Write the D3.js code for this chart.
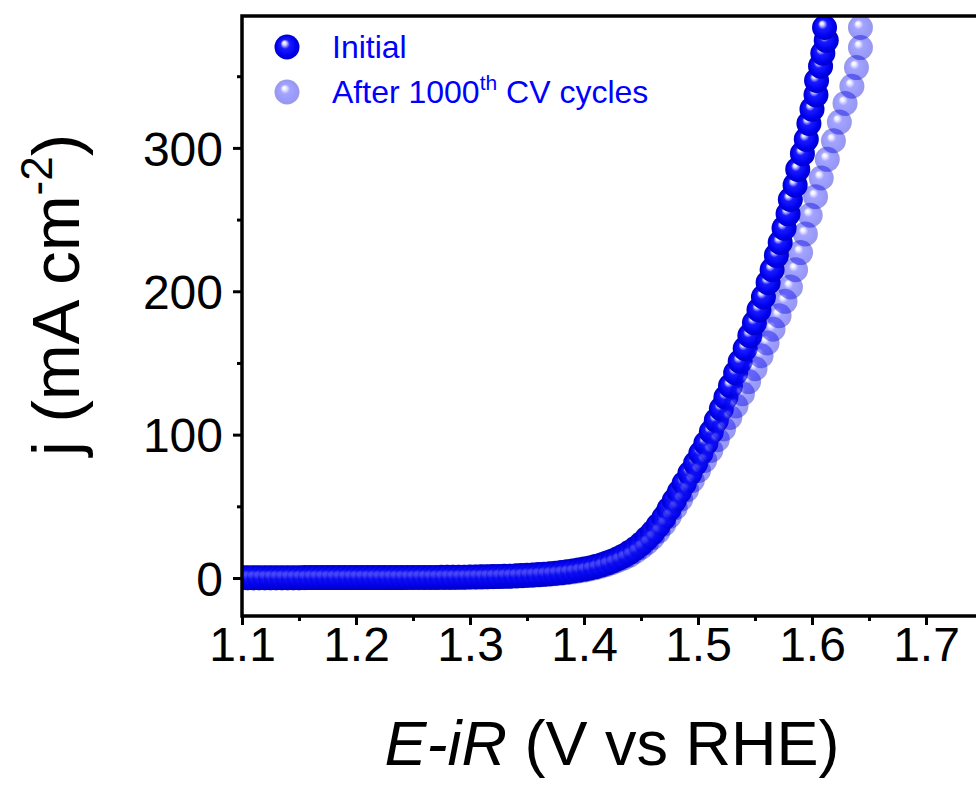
<!DOCTYPE html>
<html>
<head>
<meta charset="utf-8">
<script src="https://cdn.jsdelivr.net/npm/d3@7"></script>
<style>
  body { margin: 0; background: #ffffff; }
  #chart text { font-family: "Liberation Sans", Arial, sans-serif; }
</style>
</head>
<body>
<div id="chart"></div>
<script>
// Initial scan: E-iR (V vs RHE) and current density (mA cm-2).
// The iR correction squeezes the points together at high current.
var initialV = [
    1.100, 1.105, 1.110, 1.115, 1.120, 1.125, 1.130, 1.135, 1.140, 1.145,
    1.150, 1.155, 1.160, 1.165, 1.170, 1.175, 1.180, 1.185, 1.190, 1.195,
    1.200, 1.205, 1.210, 1.215, 1.220, 1.225, 1.230, 1.235, 1.240, 1.245,
    1.250, 1.255, 1.260, 1.265, 1.270, 1.275, 1.280, 1.285, 1.290, 1.295,
    1.300, 1.305, 1.310, 1.315, 1.320, 1.325, 1.330, 1.335, 1.340, 1.345,
    1.350, 1.355, 1.360, 1.365, 1.370, 1.375, 1.380, 1.385, 1.390, 1.395,
    1.400, 1.405, 1.410, 1.415, 1.420, 1.425, 1.430, 1.435, 1.440, 1.445,
    1.450, 1.455, 1.460, 1.465, 1.470,
    1.4746, 1.4792, 1.4836, 1.4879, 1.4929, 1.4979, 1.5025, 1.5069, 1.5117, 1.5161,
    1.5205, 1.5245, 1.5285, 1.5330, 1.5370, 1.5414, 1.5455, 1.5495, 1.5535, 1.5574,
    1.5615, 1.5650, 1.5688, 1.5721, 1.5755, 1.5790, 1.5810, 1.5852, 1.5875, 1.5916,
    1.5950, 1.5973, 1.6000, 1.6035, 1.6040, 1.6075, 1.6095, 1.6125, 1.6110
];
var initialJ = [
    0.2, 0.2, 0.2, 0.2, 0.2, 0.2, 0.2, 0.2, 0.2, 0.2,
    0.2, 0.3, 0.3, 0.3, 0.3, 0.3, 0.3, 0.3, 0.3, 0.3,
    0.3, 0.3, 0.3, 0.3, 0.3, 0.3, 0.3, 0.3, 0.3, 0.4,
    0.4, 0.4, 0.4, 0.4, 0.4, 0.5, 0.5, 0.5, 0.6, 0.6,
    0.7, 0.7, 0.8, 0.9, 1.0, 1.1, 1.2, 1.3, 1.5, 1.7,
    1.9, 2.1, 2.4, 2.7, 3.0, 3.4, 3.8, 4.3, 4.9, 5.5,
    6.2, 7.0, 8.0, 9.1, 10.4, 11.9, 13.6, 15.6, 17.9, 20.6,
    23.7, 27.5, 31.5, 36.5, 42,
    48, 54, 60, 66, 73, 80, 87, 94, 102, 110,
    118, 126, 134, 143, 151, 160, 169, 178, 187, 196,
    206, 215, 225, 234, 244, 254, 264, 274, 285, 296,
    306, 317, 327, 337, 347, 357, 366, 375, 384
];

// After 1000 CV cycles
var afterV = [
    1.100, 1.105, 1.110, 1.115, 1.120, 1.125, 1.130, 1.135, 1.140, 1.145,
    1.150, 1.155, 1.160, 1.165, 1.170, 1.175, 1.180, 1.185, 1.190, 1.195,
    1.200, 1.205, 1.210, 1.215, 1.220, 1.225, 1.230, 1.235, 1.240, 1.245,
    1.250, 1.255, 1.260, 1.265, 1.270, 1.275, 1.280, 1.285, 1.290, 1.295,
    1.300, 1.305, 1.310, 1.315, 1.320, 1.325, 1.330, 1.335, 1.340, 1.345,
    1.350, 1.355, 1.360, 1.365, 1.370, 1.375, 1.380, 1.385, 1.390, 1.395,
    1.400, 1.405, 1.410, 1.415, 1.420, 1.425, 1.430, 1.435, 1.440, 1.445,
    1.450, 1.455, 1.460, 1.465, 1.470,
    1.4748, 1.4800, 1.4848, 1.4900, 1.4950, 1.5004, 1.5058, 1.5112, 1.5169, 1.5224,
    1.5279, 1.5333, 1.5390, 1.5444, 1.5500, 1.5553, 1.5606, 1.5658, 1.5711, 1.5763,
    1.5811, 1.5856, 1.5900, 1.5942, 1.5984, 1.6031, 1.6081, 1.6134, 1.6188, 1.6240,
    1.6290, 1.6350, 1.6390, 1.6425, 1.6425
];
var afterJ = [
    0.2, 0.2, 0.2, 0.2, 0.2, 0.2, 0.2, 0.2, 0.2, 0.2,
    0.2, 0.2, 0.3, 0.3, 0.3, 0.3, 0.3, 0.3, 0.3, 0.3,
    0.3, 0.3, 0.3, 0.3, 0.3, 0.3, 0.3, 0.3, 0.3, 0.3,
    0.3, 0.4, 0.4, 0.4, 0.4, 0.4, 0.5, 0.5, 0.5, 0.6,
    0.6, 0.7, 0.7, 0.8, 0.9, 1.0, 1.1, 1.2, 1.3, 1.5,
    1.7, 1.9, 2.1, 2.4, 2.7, 3.0, 3.4, 3.8, 4.3, 4.9,
    5.5, 6.3, 7.2, 8.3, 9.5, 10.9, 12.4, 14.1, 16.0, 18.5,
    21.3, 24.5, 28.2, 32.5, 37.5,
    43, 49, 55, 61.5, 68, 75, 82, 89, 96.5, 104,
    112, 120, 128.5, 137, 146, 155, 164, 173.5, 183, 193,
    203, 215, 227, 240, 253, 266, 279, 292, 305, 318,
    331, 343, 356, 370, 384
];

var xMajorTicks = [1.1, 1.2, 1.3, 1.4, 1.5, 1.6, 1.7];
var xMinorTicks = [1.15, 1.25, 1.35, 1.45, 1.55, 1.65];
var yMajorTicks = [0, 100, 200, 300];
var yMinorTicks = [50, 150, 250, 350];

var seriesNames = ["Initial", "After 1000"];

class PolarizationPlot {

    constructor() {
        // Dimensions of the page and of the plotting frame
        this.width = 976;
        this.height = 785;
        this.margin = { top: 16, left: 242, bottom: 616 };
        this.radius = 12.5;
        this.font = '"Liberation Sans", Arial, sans-serif';

        this.initial = initialV.map(function (v, i) { return { v: v, j: initialJ[i] }; });
        this.after = afterV.map(function (v, i) { return { v: v, j: afterJ[i] }; });
    }

    create_scales() {
        this.x = d3.scaleLinear().domain([1.1, 1.75]).range([this.margin.left, this.margin.left + 0.65 * 1140]);
        this.y = d3.scaleLinear().domain([-26.5, 392]).range([this.margin.bottom, this.margin.top]);
    }

    create_gradient(svg) {
        // Shaded sphere look used by the markers
        var defs = svg.append("defs");
        var grad = defs.append("radialGradient")
            .attr("id", "sphere")
            .attr("cx", "0.5").attr("cy", "0.5").attr("r", "0.5")
            .attr("fx", "0.38").attr("fy", "0.32");
        grad.append("stop").attr("offset", "0%").attr("stop-color", "#ffffff");
        grad.append("stop").attr("offset", "14%").attr("stop-color", "#dcdcff");
        grad.append("stop").attr("offset", "38%").attr("stop-color", "#1a1aff");
        grad.append("stop").attr("offset", "80%").attr("stop-color", "#0000f0");
        grad.append("stop").attr("offset", "100%").attr("stop-color", "#0000c0");

        defs.append("clipPath").attr("id", "plotclip")
            .append("rect")
            .attr("x", this.margin.left)
            .attr("y", this.margin.top)
            .attr("width", this.width - this.margin.left)
            .attr("height", this.margin.bottom - this.margin.top);
    }

    create_axes(svg) {
        var x = this.x, y = this.y;

        // Bottom axis, major and minor ticks
        svg.append("g")
            .attr("transform", "translate(0," + this.margin.bottom + ")")
            .call(d3.axisBottom(x).tickValues(xMinorTicks).tickSize(5).tickFormat(""))
            .call(function (g) { g.select(".domain").remove(); g.selectAll("line").attr("stroke-width", 3); });
        var xg = svg.append("g")
            .attr("transform", "translate(0," + this.margin.bottom + ")")
            .call(d3.axisBottom(x).tickValues(xMajorTicks).tickSize(9).tickFormat(d3.format(".1f")));
        xg.select(".domain").remove();
        xg.selectAll("line").attr("stroke-width", 3);
        xg.selectAll("text")
            .attr("y", 45).attr("dy", 0)
            .style("font-size", "48px").style("font-family", this.font).attr("fill", "#000");

        // Left axis, major and minor ticks
        svg.append("g")
            .attr("transform", "translate(" + this.margin.left + ",0)")
            .call(d3.axisLeft(y).tickValues(yMinorTicks).tickSize(5).tickFormat(""))
            .call(function (g) { g.select(".domain").remove(); g.selectAll("line").attr("stroke-width", 3); });
        var yg = svg.append("g")
            .attr("transform", "translate(" + this.margin.left + ",0)")
            .call(d3.axisLeft(y).tickValues(yMajorTicks).tickSize(9).tickFormat(d3.format("d")));
        yg.select(".domain").remove();
        yg.selectAll("line").attr("stroke-width", 3);
        yg.selectAll("text")
            .attr("x", -19).attr("dy", "0.36em")
            .style("font-size", "48px").style("font-family", this.font).attr("fill", "#000");

        // Frame: left, bottom and top lines (right edge is off the page)
        svg.append("path")
            .attr("d", "M" + this.width + "," + this.margin.top +
                "H" + this.margin.left + "V" + this.margin.bottom + "H" + this.width)
            .attr("fill", "none")
            .attr("stroke", "#000")
            .attr("stroke-width", 3.5);
    }

    create_labels(svg) {
        // x title
        var xt = svg.append("text")
            .attr("x", 612)
            .attr("y", 765)
            .attr("text-anchor", "middle")
            .style("font-size", "63px");
        xt.append("tspan").style("font-style", "italic").text("E-iR");
        xt.append("tspan").text(" (V vs RHE)");

        // y title
        var yt = svg.append("text")
            .attr("transform", "translate(79,295) rotate(-90)")
            .attr("text-anchor", "middle")
            .style("font-size", "67px");
        yt.append("tspan").text("j (mA cm");
        yt.append("tspan").attr("dy", -27).style("font-size", "44px").text("-2");
        yt.append("tspan").attr("dy", 27).text(")");
    }

    create_legend(svg) {
        var lg = svg.append("g");
        lg.append("circle").attr("cx", 287).attr("cy", 47).attr("r", this.radius).attr("fill", "url(#sphere)");
        lg.append("circle").attr("cx", 287).attr("cy", 92).attr("r", this.radius).attr("fill", "url(#sphere)").attr("opacity", 0.4);

        lg.append("text").attr("x", 332).attr("y", 58)
            .style("font-size", "32px").attr("fill", "#0000ff").text(seriesNames[0]);
        var t = lg.append("text").attr("x", 332).attr("y", 103)
            .style("font-size", "32px").attr("fill", "#0000ff");
        t.append("tspan").text(seriesNames[1]);
        t.append("tspan").attr("dy", -13).style("font-size", "21px").text("th");
        t.append("tspan").attr("dy", 13).text(" CV cycles");
    }

    render() {
        var svg = d3.select("#chart")
            .append("svg")
            .attr("width", this.width)
            .attr("height", this.height);
        this.create_scales();
        this.create_gradient(svg);

        var x = this.x, y = this.y, r = this.radius;
        var plot = svg.append("g").attr("clip-path", "url(#plotclip)");

        // Initial scan first, cycled scan on top with transparency
        plot.append("g").selectAll("circle")
            .data(this.initial)
            .enter()
            .append("circle")
            .attr("cx", function (d) { return x(d.v); })
            .attr("cy", function (d) { return y(d.j); })
            .attr("r", r)
            .attr("fill", "url(#sphere)");

        plot.append("g").selectAll("circle")
            .data(this.after)
            .enter()
            .append("circle")
            .attr("cx", function (d) { return x(d.v); })
            .attr("cy", function (d) { return y(d.j); })
            .attr("r", r)
            .attr("fill", "url(#sphere)")
            .attr("opacity", 0.4);

        this.create_axes(svg);
        this.create_labels(svg);
        this.create_legend(svg);
    }
}

var plot = new PolarizationPlot();
plot.render();
</script>
</body>
</html>
